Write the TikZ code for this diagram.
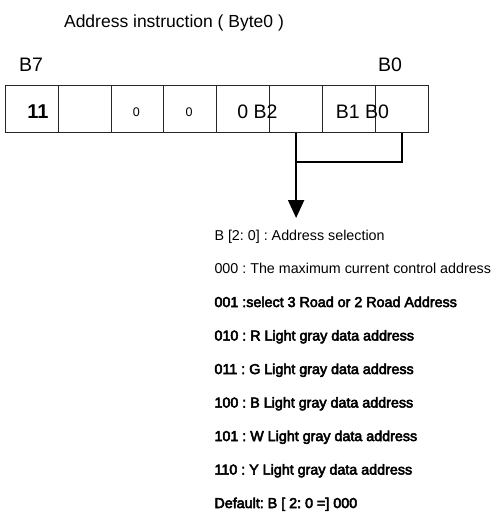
\documentclass[tikz,border=0pt]{standalone}
\usepackage{fontspec}
\setmainfont{Liberation Sans}
\newfontfamily\fakeboldfont[FakeBold=3.5]{Liberation Sans}
\usetikzlibrary{arrows.meta}
\begin{document}
\begin{tikzpicture}[x=1pt,y=-1pt,
  cell/.style={draw=black!85, line width=0.9pt, minimum width=52.875pt, minimum height=47pt, inner sep=0pt, outer sep=0pt},
  lbl/.style={anchor=base, inner sep=0pt, font=\fontsize{19.5}{22}\selectfont\frenchspacing},
  small/.style={anchor=base, inner sep=0pt, font=\fontsize{12.5}{14}\selectfont},
  item/.style={anchor=base west, inner sep=0pt, font=\fontsize{14.3}{16}\selectfont\frenchspacing},
  bitem/.style={anchor=base west, inner sep=0pt, font=\fakeboldfont\fontsize{14.3}{16}\selectfont\frenchspacing},
  conn/.style={line width=2pt, draw=black}]
\useasboundingbox (0,0) rectangle (494,512);
% title
\node[anchor=base, inner sep=0pt, font=\fontsize{17.5}{20}\selectfont\frenchspacing] (title) at (174,27) {Address instruction ( Byte0 )};
% bit labels
\node[lbl] (b7) at (31,71) {B7};
\node[lbl] (b0) at (390,71) {B0};
% cells
\foreach \i in {1,...,8}
  \node[cell] (c\i) at ({5.3+52.875*(\i-0.5)},109.2) {};
% cell texts
\node[lbl, font=\fontsize{20}{22}\selectfont\bfseries] (t11) at (38,118.8) {11};
\node[small] (t0a) at (136.3,116.5) {0};
\node[small] (t0b) at (189.2,116.5) {0};
\node[lbl] (tb2) at (257.5,118.3) {0 B2};
\node[lbl] (tb1) at (362.5,118.3) {B1 B0};
% connectors
\coordinate (j) at (c6.south |- 0,161.7);
\coordinate (tip) at (c6.south |- 0,218);
\draw[conn] (c8.south) |- (j);
\draw[conn, -{Triangle[length=18pt,width=16pt]}] (c6.south) -- (tip);
% list
\node[item]  (l0) at (214.3,240) {B [2: 0] : Address selection};
\node[item]  (l1) at (214.3,273.5) {000 : The maximum current control address};
\node[bitem] (l2) at (214.3,307) {001 :select 3 Road or 2 Road Address};
\node[bitem] (l3) at (214.3,340.5) {010 : R Light gray data address};
\node[bitem] (l4) at (214.3,374) {011 : G Light gray data address};
\node[bitem] (l5) at (214.3,407.5) {100 : B Light gray data address};
\node[bitem] (l6) at (214.3,441) {101 : W Light gray data address};
\node[bitem] (l7) at (214.3,474.5) {110 : Y Light gray data address};
\node[bitem] (l8) at (214.3,508) {Default: B [ 2: 0 =] 000};
\end{tikzpicture}
\end{document}
